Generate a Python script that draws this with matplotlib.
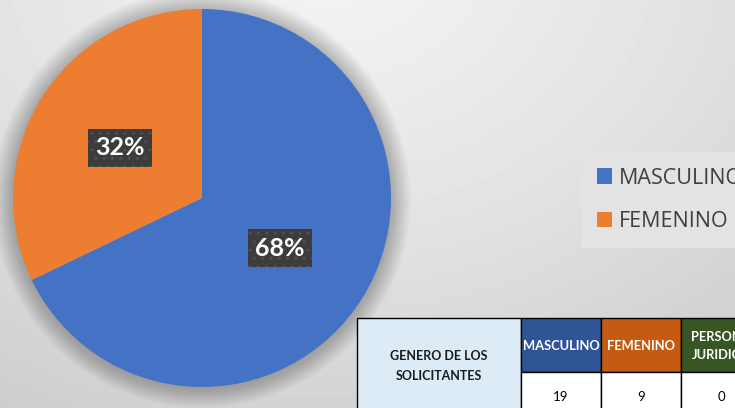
#!/usr/bin/env python

import numpy as np
from matplotlib import pyplot as plt
from matplotlib.patches import Rectangle, Circle

W, H = 735, 408

# data
categories = ['MASCULINO', 'FEMENINO']
counts = [19, 9]
colors = ['#4472c4', '#ed7d31']

table_title = 'GENERO DE LOS\nSOLICITANTES'
table_heads = ['MASCULINO', 'FEMENINO', 'PERSONA\nJURIDICA']
table_vals = [19, 9, 0]
table_colors = ['#2f5597', '#c55a11', '#375623']

plt.rcParams['font.family'] = ['Lato', 'DejaVu Sans']

fig = plt.figure(figsize=(W / 100, H / 100), dpi=100)
ax = fig.add_axes([0, 0, 1, 1])

# background, radial grey gradient (image coords: y down)
yy, xx = np.mgrid[0:H, 0:W]
dist = np.hypot(xx - 330, (yy + 40) * 1.3)
shade = np.clip(0.955 - dist / 3400.0 * 0.5 - (dist / 700.0) ** 2 * 0.06, 0.80, 0.96)
ax.imshow(shade, cmap='gray', vmin=0, vmax=1, extent=(0, W, 0, H), origin='upper', zorder=0)

# pie (data coords: y up)
cx, cy, r = 202, H - 198, 189
for k in range(20):
    ax.add_patch(Circle((cx, cy - 1), r + 20 - k, color='black', alpha=0.012, lw=0, zorder=1))

wedges, _ = ax.pie(counts, colors=colors, startangle=90, counterclock=False,
                   center=(cx, cy), radius=r, wedgeprops=dict(linewidth=0, zorder=2))

# percentage labels
total = sum(counts)
labels = []
for w, c in zip(wedges, counts):
    mid = np.deg2rad((w.theta1 + w.theta2) / 2)
    px = cx + 0.5 * r * np.cos(mid) - 2
    py = cy + 0.5 * r * np.sin(mid)
    t = ax.text(px, py, f'{round(100 * c / total)}%', fontsize=18, fontweight='bold',
                color='white', ha='center', va='center', zorder=4,
                bbox=dict(boxstyle='square,pad=0.3', fc='#3c3c3c', ec='#505050', lw=0, hatch='..'))
    labels.append(t)

# soft shadow under the label boxes
fig.canvas.draw()
for t in labels:
    bb = t.get_bbox_patch().get_window_extent()
    for k in range(4):
        ax.add_patch(Rectangle((bb.x0 + 5 - k, bb.y0 - 5 - k), bb.width + 2 * k, bb.height + 2 * k,
                               fc='black', alpha=0.16, lw=0, zorder=3.5))

# legend
leg = ax.legend(wedges, categories, loc='upper left', bbox_to_anchor=(582 / W, 1 - 152 / H),
                frameon=True, fancybox=False, framealpha=1, facecolor='#e3e3e3', edgecolor='none',
                fontsize=15.5, handlelength=0.72, handleheight=0.72, handletextpad=0.3,
                labelspacing=1.05, borderpad=0.72, borderaxespad=0)
for t in leg.get_texts():
    t.set_color('#3f3f3f')
    t.set_family(['Open Sans', 'DejaVu Sans'])
leg.set_bbox_to_anchor((581 / W, 1 - 152 / H), transform=fig.transFigure)

# table
xs = [357, 521, 601, 681, 761]
y_top, y_mid, y_bot = H - 318, H - 372, H - 420
ax.add_patch(Rectangle((xs[0], y_bot), xs[1] - xs[0], y_top - y_bot, fc='#ddebf7',
                       ec='black', lw=1, zorder=5))
ax.text((xs[0] + xs[1]) / 2, H - 366, table_title, ha='center', va='center', fontsize=9,
        fontweight='bold', color='#1a1a1a', linespacing=1.85, zorder=6)
for i, (head, val, col) in enumerate(zip(table_heads, table_vals, table_colors)):
    x0, x1 = xs[i + 1], xs[i + 2]
    ax.add_patch(Rectangle((x0, y_mid), x1 - x0, y_top - y_mid, fc=col, ec='black', lw=1, zorder=5))
    ax.add_patch(Rectangle((x0, y_bot), x1 - x0, y_mid - y_bot, fc='white', ec='black', lw=1, zorder=5))
    ax.text((x0 + x1) / 2, (y_top + y_mid) / 2 - 1, head, ha='center', va='center', fontsize=9.3,
            fontweight='bold', color='white', linespacing=1.6, zorder=6, clip_on=True)
    ax.text((x0 + x1) / 2, H - 397, str(val), ha='center', va='center', fontsize=9.5,
            color='black', zorder=6)

ax.set_xlim(0, W)
ax.set_ylim(0, H)
ax.set_aspect('auto')
ax.axis('off')

fig.savefig('out.png', dpi=100)
